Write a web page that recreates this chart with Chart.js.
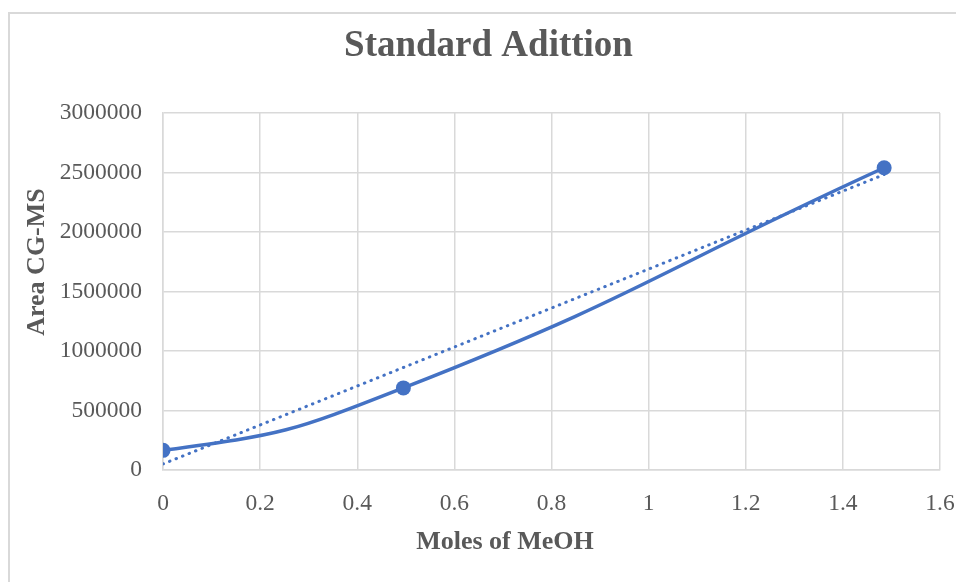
<!DOCTYPE html>
<html>
<head>
<meta charset="utf-8">
<script src="https://cdn.jsdelivr.net/npm/chart.js@4"></script>
<style>
  html, body { margin: 0; padding: 0; background: #ffffff; overflow: hidden; }
  #wrap { width: 956px; height: 582px; position: relative; }
</style>
</head>
<body>
<div id="wrap"><canvas id="chart" width="956" height="582"></canvas></div>
<script>
// Measured samples: moles of methanol added vs. GC-MS peak area
const molesMeOH = [0, 0.495, 1.485];
const areaGCMS = [165000, 690000, 2540000];

// Axis ticks
const xTickValues = [0, 0.2, 0.4, 0.6, 0.8, 1, 1.2, 1.4, 1.6];
const yTickValues = [0, 500000, 1000000, 1500000, 2000000, 2500000, 3000000];

// Texts
const chartTitle = 'Standard Adittion';
const xAxisTitle = 'Moles of MeOH';
const yAxisTitle = 'Area CG-MS';

const TEXT = '#595959';
const GRID = '#d9d9d9';
const BLUE = '#4472C4';
const SERIF = "'Liberation Serif', 'Times New Roman', serif";

// Least-squares linear trend over the measured points
function linearFit(xs, ys) {
  const n = xs.length;
  const mx = xs.reduce((a, b) => a + b, 0) / n;
  const my = ys.reduce((a, b) => a + b, 0) / n;
  let sxy = 0, sxx = 0;
  for (let i = 0; i < n; i++) {
    sxy += (xs[i] - mx) * (ys[i] - my);
    sxx += (xs[i] - mx) * (xs[i] - mx);
  }
  const slope = sxy / sxx;
  return { slope, intercept: my - slope * mx };
}
const fit = linearFit(molesMeOH, areaGCMS);
const xMin = Math.min(...molesMeOH), xMax = Math.max(...molesMeOH);
const trendPoints = [xMin, xMax].map(x => ({ x, y: fit.intercept + fit.slope * x }));
const samplePoints = molesMeOH.map((x, i) => ({ x, y: areaGCMS[i] }));

// Smoothed line: let the first segment leave its start point with a tangent
// mirrored (about the chord) from the tangent it arrives with at the second point.
const smoothStart = {
  id: 'smoothStart',
  beforeDatasetsDraw(chart) {
    const meta = chart.getDatasetMeta(0);
    const pts = meta.data;
    if (!meta.dataset || pts.length < 3) return;
    meta.dataset.updateControlPoints(chart.chartArea, 'x');
    const p0 = pts[0], p1 = pts[1];
    const ux = p1.x - p1.cp1x, uy = p1.y - p1.cp1y;
    const cx = p1.x - p0.x, cy = p1.y - p0.y;
    const cl = Math.hypot(cx, cy);
    const nx = cx / cl, ny = cy / cl;
    const dot = ux * nx + uy * ny;
    p0.cp2x = p0.x + (2 * dot * nx - ux);
    p0.cp2y = p0.y + (2 * dot * ny - uy);
  }
};

// Frame, chart title and axis titles
const decorations = {
  id: 'decorations',
  beforeDraw(chart) {
    const ctx = chart.ctx;
    ctx.save();
    ctx.strokeStyle = GRID;
    ctx.lineWidth = 2;
    ctx.strokeRect(9, 13, 1000, 1000);
    ctx.restore();
  },
  afterDraw(chart) {
    const ctx = chart.ctx;
    ctx.save();
    ctx.fillStyle = TEXT;
    ctx.textAlign = 'center';
    ctx.textBaseline = 'middle';

    ctx.font = "bold 37px " + SERIF;
    ctx.fillText(chartTitle, 488.5, 46);

    ctx.font = "bold 26px " + SERIF;
    ctx.fillText(xAxisTitle, 505, 542);

    ctx.translate(37, 262);
    ctx.rotate(-Math.PI / 2);
    ctx.fillText(yAxisTitle, 0, 0);
    ctx.restore();
  }
};

new Chart(document.getElementById('chart'), {
  type: 'scatter',
  data: {
    datasets: [
      {
        label: 'Area',
        data: samplePoints,
        showLine: true,
        tension: 0.5,
        borderColor: BLUE,
        backgroundColor: BLUE,
        borderWidth: 3.5,
        pointRadius: 7.5,
        pointBorderWidth: 0,
        pointBackgroundColor: BLUE,
        order: 1
      },
      {
        label: 'Linear trend',
        data: trendPoints,
        showLine: true,
        tension: 0,
        borderColor: BLUE,
        borderWidth: 3,
        borderDash: [0.5, 6.5],
        borderCapStyle: 'round',
        pointRadius: 0,
        order: 2
      }
    ]
  },
  options: {
    responsive: false,
    animation: false,
    layout: { padding: { top: 113, right: 16, bottom: 0, left: 0 } },
    plugins: {
      legend: { display: false },
      tooltip: { enabled: false },
      title: { display: false }
    },
    scales: {
      x: {
        type: 'linear',
        min: 0,
        max: 1.6,
        afterBuildTicks(scale) { scale.ticks = xTickValues.map(v => ({ value: v })); },
        afterFit(scale) {
          scale.height = 112;
          scale.paddingLeft = 0;
          scale.paddingRight = 0;
        },
        grid: { color: GRID, lineWidth: 1.5, drawTicks: false },
        border: { color: GRID, width: 1.5 },
        ticks: {
          color: TEXT,
          padding: 20,
          font: { family: SERIF, size: 23.5 },
          maxRotation: 0,
          callback: v => String(Math.round(v * 10) / 10)
        }
      },
      y: {
        type: 'linear',
        min: 0,
        max: 3000000,
        afterBuildTicks(scale) { scale.ticks = yTickValues.map(v => ({ value: v })); },
        afterFit(scale) { scale.width = 163; },
        grid: { color: GRID, lineWidth: 1.5, drawTicks: false },
        border: { color: GRID, width: 1.5 },
        ticks: {
          color: TEXT,
          padding: 21,
          font: { family: SERIF, size: 23.5 },
          callback: v => String(v)
        }
      }
    }
  },
  plugins: [smoothStart, decorations]
});
</script>
</body>
</html>
